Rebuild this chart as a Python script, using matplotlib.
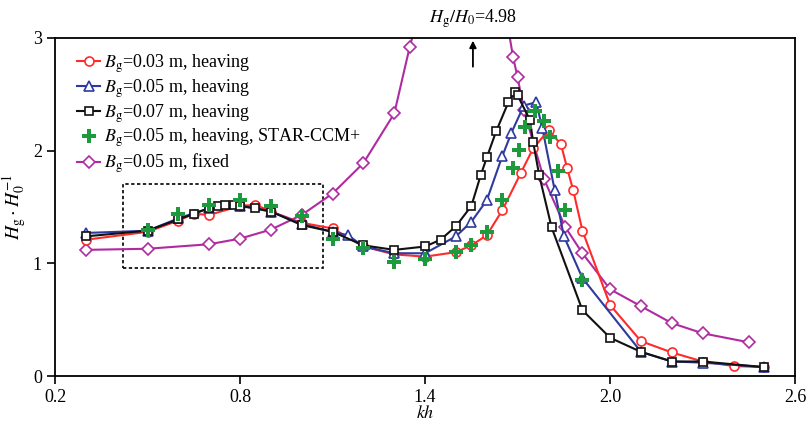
import matplotlib
matplotlib.use("Agg")
import matplotlib.pyplot as plt
from matplotlib.patches import Rectangle

plt.rcParams["font.family"] = ["Liberation Serif", "DejaVu Serif"]
plt.rcParams["mathtext.fontset"] = "stix"

# Bg = 0.03 m, heaving
kh_03 = [0.30, 0.50, 0.60, 0.65, 0.70, 0.80, 0.85, 0.90, 1.00, 1.10, 1.20, 1.30,
         1.40, 1.50, 1.55, 1.60, 1.65, 1.71, 1.75, 1.80, 1.84, 1.86, 1.88, 1.91,
         2.00, 2.10, 2.20, 2.30, 2.40, 2.50]
h_03 = [1.21, 1.28, 1.38, 1.44, 1.43, 1.51, 1.52, 1.46, 1.36, 1.31, 1.15, 1.08,
        1.06, 1.10, 1.16, 1.25, 1.47, 1.80, 2.02, 2.18, 2.06, 1.85, 1.65, 1.29,
        0.63, 0.31, 0.21, 0.13, 0.09, 0.08]

# Bg = 0.05 m, heaving
kh_05 = [0.30, 0.50, 0.60, 0.70, 0.80, 0.90, 1.00, 1.10, 1.15, 1.20, 1.30, 1.40,
         1.50, 1.55, 1.60, 1.65, 1.68, 1.72, 1.76, 1.78, 1.82, 1.85, 1.91, 2.10,
         2.20, 2.30, 2.50]
h_05 = [1.27, 1.29, 1.40, 1.49, 1.51, 1.46, 1.35, 1.28, 1.25, 1.15, 1.09, 1.09,
        1.24, 1.37, 1.56, 1.95, 2.16, 2.40, 2.43, 2.20, 1.65, 1.24, 0.87, 0.215,
        0.13, 0.12, 0.08]

# Bg = 0.07 m, heaving
kh_07 = [0.30, 0.50, 0.60, 0.65, 0.70, 0.73, 0.75, 0.78, 0.80, 0.85, 0.90, 1.00,
         1.10, 1.20, 1.30, 1.40, 1.45, 1.50, 1.55, 1.58, 1.60, 1.63, 1.67, 1.69,
         1.70, 1.74, 1.75, 1.77, 1.81, 1.91, 2.00, 2.10, 2.20, 2.30, 2.50]
h_07 = [1.24, 1.29, 1.39, 1.44, 1.49, 1.51, 1.52, 1.52, 1.51, 1.49, 1.46, 1.34,
        1.28, 1.16, 1.12, 1.15, 1.21, 1.33, 1.51, 1.78, 1.94, 2.17, 2.43, 2.52,
        2.49, 2.27, 2.08, 1.78, 1.32, 0.585, 0.34, 0.215, 0.13, 0.13, 0.08]

# Bg = 0.05 m, heaving, STAR-CCM+
kh_cfd = [0.50, 0.60, 0.70, 0.80, 0.90, 1.00, 1.10, 1.20, 1.30, 1.40, 1.50, 1.55,
          1.60, 1.65, 1.685, 1.705, 1.725, 1.755, 1.785, 1.805, 1.83, 1.855, 1.91]
h_cfd = [1.30, 1.44, 1.52, 1.56, 1.51, 1.42, 1.22, 1.14, 1.01, 1.04, 1.10, 1.16,
         1.28, 1.56, 1.85, 2.01, 2.21, 2.35, 2.26, 2.12, 1.82, 1.47, 0.85]

# Bg = 0.05 m, fixed
kh_fix = [0.30, 0.50, 0.70, 0.80, 0.90, 1.00, 1.10, 1.20, 1.30, 1.35, 1.555, 1.685,
          1.70, 1.72, 1.785, 1.855, 1.91, 2.00, 2.10, 2.20, 2.30, 2.45]
h_fix = [1.12, 1.13, 1.17, 1.22, 1.30, 1.43, 1.62, 1.89, 2.33, 2.92, 4.98, 2.83,
         2.65, 2.36, 1.75, 1.32, 1.09, 0.77, 0.62, 0.47, 0.38, 0.30]

x_ticks = [0.2, 0.8, 1.4, 2.0, 2.6]
x_tick_labels = ["0.2", "0.8", "1.4", "2.0", "2.6"]
y_ticks = [0, 1, 2, 3]

fig = plt.figure(figsize=(8.09, 4.26), dpi=100)
ax = fig.add_axes([0.068, 0.117, 0.915, 0.794])

ms = 6.5
mew = 1.2
lw = 1.5
ax.plot(kh_03, h_03, "-o", color="#ff2a2a", mfc="white", mec="#ff2a2a",
        ms=ms, mew=mew, lw=lw, label=r"$B_{\rm g}$=0.03 m, heaving", zorder=3)
ax.plot(kh_05, h_05, "-^", color="#2e3a9e", mfc="white", mec="#2e3a9e",
        ms=ms + 0.5, mew=mew, lw=lw, label=r"$B_{\rm g}$=0.05 m, heaving", zorder=4)
ax.plot(kh_07, h_07, "-s", color="#111111", mfc="white", mec="#111111",
        ms=ms - 0.5, mew=mew, lw=lw, label=r"$B_{\rm g}$=0.07 m, heaving", zorder=5)
ax.plot(kh_cfd, h_cfd, "P", linestyle="none", color="#1e9a3e", ms=ms + 3.5,
        mew=0, label=r"$B_{\rm g}$=0.05 m, heaving, STAR-CCM+", zorder=6)
ax.plot(kh_fix, h_fix, "-D", color="#b02aa0", mfc="white", mec="#b02aa0",
        ms=ms - 0.8, mew=mew, lw=lw, label=r"$B_{\rm g}$=0.05 m, fixed", zorder=2)

# zoomed-in region
ax.add_patch(Rectangle((0.42, 0.96), 0.65, 0.74, fill=False, edgecolor="black",
                       linestyle=(0, (2, 1.5)), linewidth=1.2, zorder=1))

# peak of the fixed case falls outside the axis
ax.annotate("", xy=(1.555, 3.0), xytext=(1.555, 2.72),
            arrowprops=dict(arrowstyle="-|>", color="black", lw=1.3,
                            mutation_scale=10), annotation_clip=False)
ax.text(1.555, 3.17, r"$H_{\rm g}/H_0$=4.98", ha="center", va="center",
        fontsize=13, clip_on=False)

ax.set_xlim(0.2, 2.6)
ax.set_ylim(0, 3)
ax.set_xticks(x_ticks)
ax.set_xticklabels(x_tick_labels)
ax.set_yticks(y_ticks)
ax.tick_params(direction="out", length=6, width=1.2, labelsize=13)
for sp in ax.spines.values():
    sp.set_linewidth(1.3)

ax.set_xlabel(r"$kh$", fontsize=13)
ax.set_ylabel(r"$H_{\rm g}\cdot H_0^{-1}$", fontsize=14)
ax.xaxis.set_label_coords(0.5, -0.085)
ax.yaxis.set_label_coords(-0.036, 0.5)

ax.legend(loc="upper left", bbox_to_anchor=(0.005, 1.01), frameon=False,
          fontsize=13, handlelength=1.3, handletextpad=0.2, labelspacing=0.12,
          borderaxespad=0.6)

fig.savefig("out.png", dpi=100)
